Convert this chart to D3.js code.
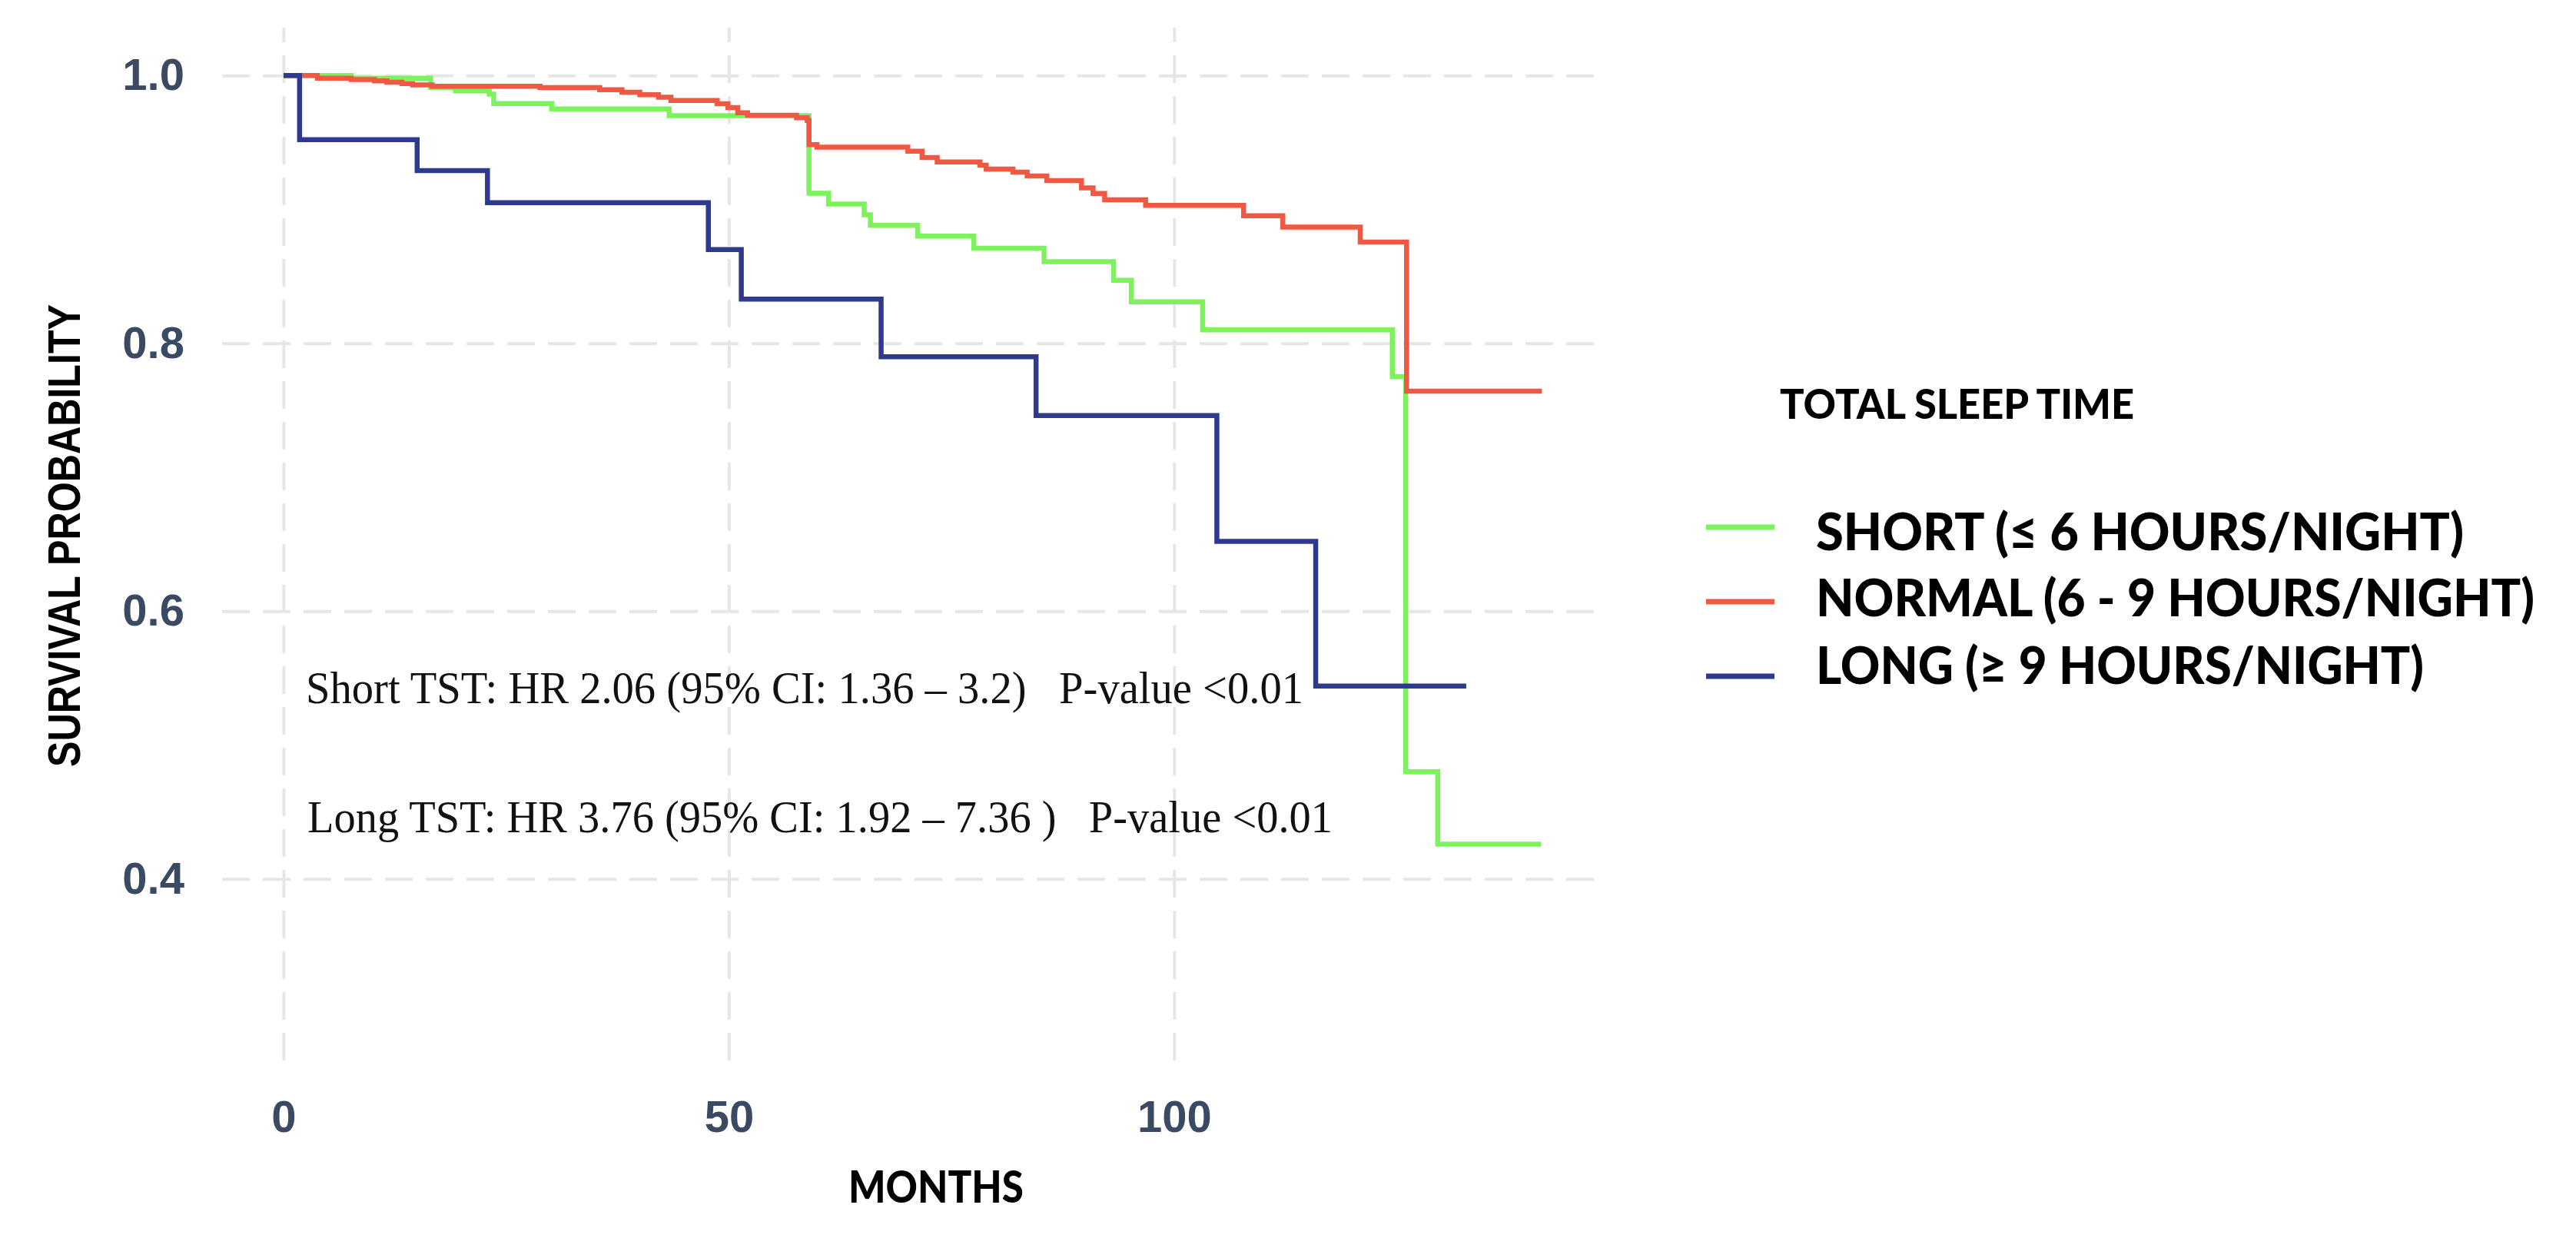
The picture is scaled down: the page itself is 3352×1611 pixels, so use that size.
<!DOCTYPE html>
<html>
<head>
<meta charset="utf-8">
<script src="https://cdn.jsdelivr.net/npm/d3@7"></script>
<style>
body { margin: 0; background: #fff; }
.grid line { stroke: #e6e6e6; stroke-width: 4; stroke-dasharray: 36 17; }
.grid path { display: none; }
.ticks path, .ticks line { display: none; }
.ticks text { font-family: "Liberation Sans", Arial, sans-serif; font-weight: bold; font-size: 58px; fill: #3a4a62; }
</style>
</head>
<body>
<svg id="chart" width="3352" height="1611"></svg>
<script>
// Kaplan-Meier steps: [months, survival probability]
var shortCurve = [[0, 1], [7.6, 0.998], [16.5, 0.991], [19.3, 0.9885], [23.1, 0.986], [23.6, 0.979],
    [30.1, 0.975], [43.3, 0.970], [59.0, 0.912], [61.2, 0.904], [65.2, 0.896], [65.9, 0.888],
    [71.2, 0.880], [77.5, 0.871], [85.4, 0.861], [93.2, 0.847], [95.2, 0.831], [103.2, 0.810],
    [124.5, 0.775], [126.0, 0.480], [129.6, 0.426], [141.2, 0.426]];
var normalCurve = [[0, 1], [3.8, 0.998], [7.6, 0.997], [10.2, 0.996], [11.6, 0.995], [13.3, 0.994],
    [14.5, 0.993], [16.7, 0.992], [28.8, 0.991], [35.5, 0.9894], [38.0, 0.9875], [40.0, 0.9856],
    [42.1, 0.9837], [43.5, 0.9813], [48.7, 0.9789], [49.9, 0.976], [51.0, 0.9722], [52.1, 0.9703],
    [57.6, 0.9684], [58.8, 0.9664], [59.0, 0.9483], [59.9, 0.9464], [70.1, 0.9435], [71.7, 0.9387],
    [73.4, 0.9354], [78.2, 0.933], [78.9, 0.9301], [81.9, 0.9278], [83.5, 0.9249], [85.7, 0.9215],
    [89.6, 0.916], [90.9, 0.9119], [92.2, 0.9071], [96.8, 0.903], [107.8, 0.8953], [112.2, 0.8868],
    [120.9, 0.8756], [126.1, 0.7643], [141.3, 0.7643]];
var longCurve = [[0, 1], [1.8, 0.952], [15.0, 0.929], [22.9, 0.905], [47.7, 0.870], [51.4, 0.833],
    [67.1, 0.790], [84.5, 0.746], [104.8, 0.652], [115.9, 0.544], [132.8, 0.544]];

var groupNames = ["SHORT (\u2264 6 HOURS/NIGHT)", "NORMAL (6 - 9 HOURS/NIGHT)", "LONG (\u2265 9 HOURS/NIGHT)"];
var groupColors = ["#7cf25c", "#ef5843", "#2e3a8e"];
var xTicks = [0, 50, 100];
var yTicks = [0.4, 0.6, 0.8, 1.0];
var notes = ["Short TST: HR 2.06 (95% CI: 1.36 \u2013 3.2)   P-value <0.01",
    "Long TST: HR 3.76 (95% CI: 1.92 \u2013 7.36 )   P-value <0.01"];

var svg = d3.select("#chart");
var panel = {left: 289, right: 2091, top: 36, bottom: 1380};

// set the ranges (ggplot-like 5% padding around the data)
var x = d3.scaleLinear().domain([-6.9, 148.6]).range([panel.left, panel.right]);
var y = d3.scaleLinear().domain([0.2644, 1.0357]).range([panel.bottom, panel.top]);

// dashed grid
svg.append("g")
    .attr("class", "grid")
    .attr("transform", "translate(" + panel.left + ",0)")
    .call(d3.axisLeft(y).tickValues(yTicks).tickSize(-(panel.right - panel.left)).tickFormat(""));
svg.append("g")
    .attr("class", "grid")
    .attr("transform", "translate(0," + panel.bottom + ")")
    .call(d3.axisBottom(x).tickValues(xTicks).tickSize(-(panel.bottom - panel.top)).tickFormat(""));

// tick labels
svg.append("g")
    .attr("class", "ticks")
    .attr("transform", "translate(" + panel.left + ",0)")
    .call(d3.axisLeft(y).tickValues(yTicks).tickSize(0).tickPadding(49).tickFormat(d3.format(".1f")));
svg.append("g")
    .attr("class", "ticks")
    .attr("transform", "translate(0," + panel.bottom + ")")
    .call(d3.axisBottom(x).tickValues(xTicks).tickSize(0).tickPadding(52));

// survival curves
var stepLine = d3.line()
    .x(function(d) { return x(d[0]); })
    .y(function(d) { return y(d[1]); })
    .curve(d3.curveStepAfter);

[shortCurve, normalCurve, longCurve].forEach(function(c, i) {
    svg.append("path")
        .datum(c)
        .attr("d", stepLine)
        .attr("fill", "none")
        .attr("stroke", groupColors[i])
        .attr("stroke-width", 6.5);
});

// hazard ratio notes
var noteX = [398, 400], noteY = [915, 1083], noteLen = [1298, 1334];
notes.forEach(function(t, i) {
    svg.append("text")
        .attr("x", noteX[i])
        .attr("y", noteY[i])
        .attr("textLength", noteLen[i])
        .attr("lengthAdjust", "spacingAndGlyphs")
        .style("white-space", "pre")
        .style("font-family", "'Liberation Serif', 'DejaVu Serif', serif")
        .style("font-size", "60px")
        .style("fill", "#111")
        .text(t);
});

// axis titles
svg.append("text")
    .attr("transform", "translate(104,697) rotate(-90)")
    .attr("text-anchor", "middle")
    .attr("textLength", 602)
    .attr("lengthAdjust", "spacingAndGlyphs")
    .style("font-family", "'Liberation Sans', Arial, sans-serif")
    .style("font-weight", "bold")
    .style("font-size", "60px")
    .text("SURVIVAL PROBABILITY");

svg.append("text")
    .attr("x", 1218)
    .attr("y", 1565)
    .attr("text-anchor", "middle")
    .attr("textLength", 228)
    .attr("lengthAdjust", "spacingAndGlyphs")
    .style("font-family", "Lato, sans-serif")
    .style("font-weight", 900)
    .style("font-size", "57px")
    .text("MONTHS");

// legend
var legend = svg.append("g");
legend.append("text")
    .attr("x", 2316)
    .attr("y", 545)
    .attr("textLength", 461)
    .attr("lengthAdjust", "spacingAndGlyphs")
    .style("font-family", "Lato, sans-serif")
    .style("font-weight", 900)
    .style("font-size", "54px")
    .text("TOTAL SLEEP TIME");

var keyY = [686, 783, 880], labelY = [716, 802, 890], labelLen = [843, 935, 791];
groupNames.forEach(function(name, i) {
    legend.append("line")
        .attr("x1", 2220).attr("x2", 2309)
        .attr("y1", keyY[i]).attr("y2", keyY[i])
        .attr("stroke", groupColors[i])
        .attr("stroke-width", 7);
    legend.append("text")
        .attr("x", 2363)
        .attr("y", labelY[i])
        .attr("textLength", labelLen[i])
        .attr("lengthAdjust", "spacingAndGlyphs")
        .style("font-family", "Lato, sans-serif")
        .style("font-weight", 900)
        .style("font-size", "67px")
        .text(name);
});
</script>
</body>
</html>
